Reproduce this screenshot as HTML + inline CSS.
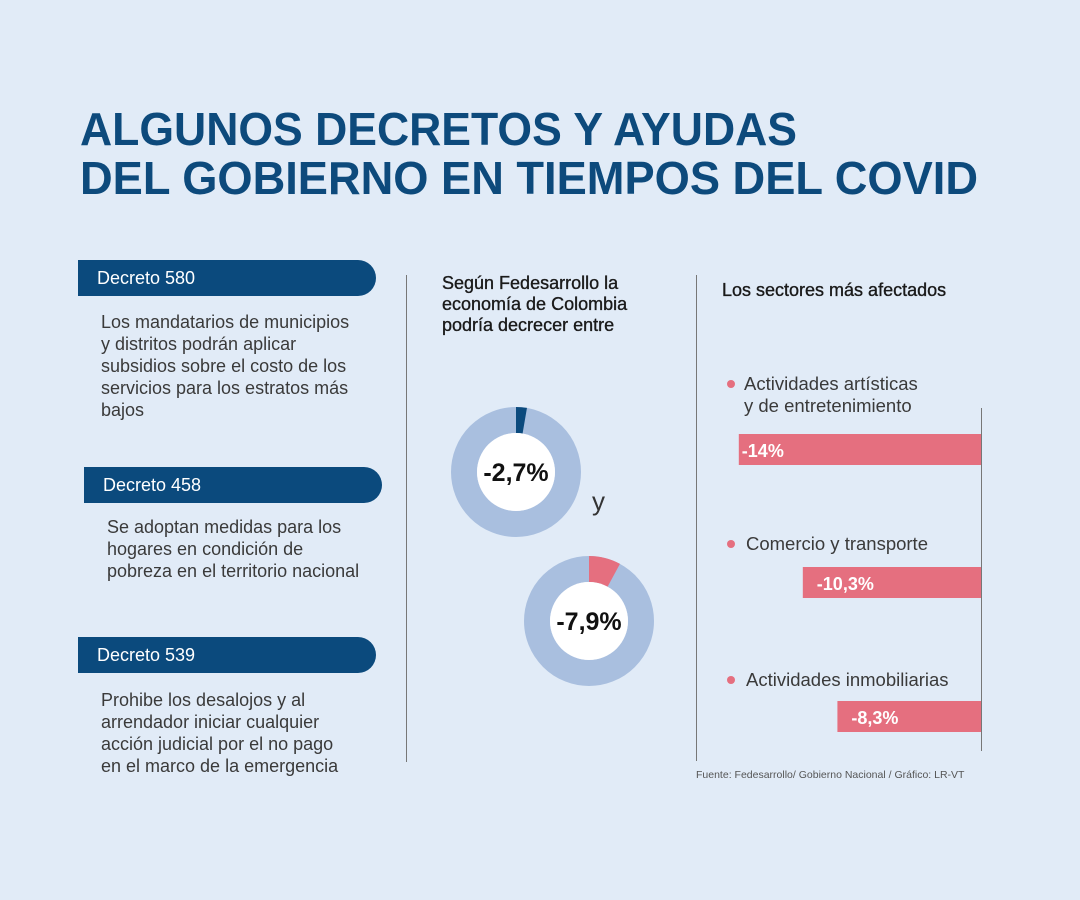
<!DOCTYPE html>
<html><head><meta charset="utf-8">
<style>
body{margin:0;width:1080px;height:900px;background:#e1ebf7;font-family:"Liberation Sans",sans-serif;position:relative;overflow:hidden}
.abs{position:absolute}
.tab{position:absolute;height:36px;width:298px;background:#0b4a7d;border-radius:0 18px 18px 0;color:#fff;font-size:18px;line-height:36px;box-sizing:border-box;padding-left:19px}
.body{position:absolute;font-size:18px;line-height:22px;color:#3a3a3a;white-space:nowrap}
.vl{position:absolute;width:1px;background:#777}
.hd{position:absolute;font-size:18px;line-height:21px;color:#1a1a1a;-webkit-text-stroke:0.35px #1a1a1a}
</style></head><body>
<svg class="abs" style="left:0;top:0" width="1080" height="220">
<text x="80" y="145" textLength="717" lengthAdjust="spacingAndGlyphs" font-family="Liberation Sans" font-weight="bold" font-size="46" fill="#0d4a7c">ALGUNOS DECRETOS Y AYUDAS</text>
<text x="80" y="194" textLength="898" lengthAdjust="spacingAndGlyphs" font-family="Liberation Sans" font-weight="bold" font-size="46" fill="#0d4a7c">DEL GOBIERNO  EN TIEMPOS DEL COVID</text>
</svg>

<div class="tab" style="left:78px;top:260px">Decreto 580</div>
<div class="body" style="left:101px;top:311px">Los mandatarios de municipios<br>y distritos podrán aplicar<br>subsidios sobre el costo de los<br>servicios para los estratos más<br>bajos</div>
<div class="tab" style="left:84px;top:467px">Decreto 458</div>
<div class="body" style="left:107px;top:516px">Se adoptan medidas para los<br>hogares en condición de<br>pobreza en el territorio nacional</div>
<div class="tab" style="left:78px;top:637px">Decreto 539</div>
<div class="body" style="left:101px;top:689px">Prohibe los desalojos y  al<br>arrendador iniciar cualquier<br>acción judicial por el no pago<br>en el marco de la emergencia</div>

<div class="vl" style="left:406px;top:275px;height:487px"></div>
<div class="vl" style="left:696px;top:275px;height:486px"></div>

<div class="hd" style="left:442px;top:273px">Según Fedesarrollo la<br>economía de Colombia<br>podría decrecer entre</div>
<div class="hd" style="left:722px;top:280px">Los sectores más afectados</div>

<svg id="donuts" class="abs" style="left:0;top:0" width="1080" height="900"></svg>
<div class="abs" style="left:592px;top:486px;font-size:26px;color:#333">y</div>

<svg id="bars" class="abs" style="left:0;top:0" width="1080" height="900"></svg>

<div class="abs" style="left:696px;top:769px;font-size:10.5px;color:#555">Fuente: Fedesarrollo/ Gobierno Nacional / Gráfico: LR-VT</div>

<script>
const donutValues=[2.7,7.9];
const donutLabels=["-2,7%","-7,9%"];
const sectorLabels=[["Actividades artísticas","y de entretenimiento"],["Comercio y transporte"],["Actividades inmobiliarias"]];
const sectorValues=[14,10.3,8.3];
const barLabels=["-14%","-10,3%","-8,3%"];

const NS="http://www.w3.org/2000/svg";
function mk(p,t,a){const e=document.createElementNS(NS,t);for(const k in a)e.setAttribute(k,a[k]);p.appendChild(e);return e;}
const dsvg=document.getElementById('donuts');
const centers=[[516,472],[589,621]];
const sliceColors=["#0b4a7d","#e56f7f"];
donutValues.forEach((v,i)=>{
  const [cx,cy]=centers[i];const R=65,r=39;
  const g=mk(dsvg,'g',{});
  
  
  const ring=mk(g,'circle',{cx:cx,cy:cy,r:(R+r)/2,fill:'none',stroke:'#a9bfdf','stroke-width':R-r});
  
  
  const a=v/100*2*Math.PI;
  const x1=cx,y1=cy-R,x2=cx+R*Math.sin(a),y2=cy-R*Math.cos(a);
  const x3=cx+r*Math.sin(a),y3=cy-r*Math.cos(a),x4=cx,y4=cy-r;
  const sl=mk(g,'path',{d:`M${x1},${y1}A${R},${R} 0 0 1 ${x2},${y2}L${x3},${y3}A${r},${r} 0 0 0 ${x4},${y4}Z`,fill:sliceColors[i]});
  
  
  mk(g,'circle',{cx:cx,cy:cy,r:r,fill:'#fff'});
  const t=mk(g,'text',{x:cx,y:cy+9,'text-anchor':'middle','font-family':'Liberation Sans','font-size':25,'font-weight':'bold',fill:'#111'});
  t.textContent=donutLabels[i];
  
  
});

const bsvg=document.getElementById('bars');
const axisX=981,pxPer=17.3,barH=31;
const barTops=[434,567,701];
const labTops=[372,532,668];
const ax=mk(bsvg,'line',{x1:axisX+0.5,x2:axisX+0.5,y1:408,y2:751,stroke:'#777','stroke-width':1});


sectorValues.forEach((v,i)=>{
  const w=v*pxPer;
  const rc=mk(bsvg,'rect',{x:axisX-w,y:barTops[i],width:w,height:barH,fill:'#e56f7f'});
  
  
  const t=mk(bsvg,'text',{x:axisX-w+(i==0?3:14),y:barTops[i]+23,'font-family':'Liberation Sans','font-size':18,'font-weight':'bold',fill:'#fff'});
  t.textContent=barLabels[i];
  
  
  const d=mk(bsvg,'circle',{cx:731,cy:labTops[i]+12,r:4,fill:'#e56f7f'});
  
  
  sectorLabels[i].forEach((ln,j)=>{
    const lt=mk(bsvg,'text',{x:i==0?744:746,y:labTops[i]+18+j*22,'font-family':'Liberation Sans','font-size':18.5,fill:'#3a3a3a'});
    lt.textContent=ln;
    
    
  });
});
</script>
</body></html>
